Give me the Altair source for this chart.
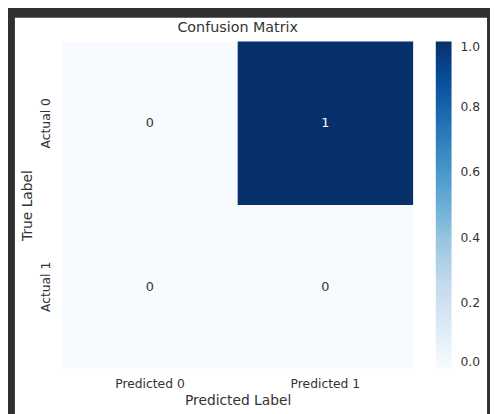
import altair as alt
import pandas as pd

# ---- data ----
row_labels = ["Actual 0", "Actual 1"]
col_labels = ["Predicted 0", "Predicted 1"]
matrix = [[0, 1],
          [0, 0]]

# matplotlib "Blues" colour stops
blues = ["#f7fbff", "#deebf7", "#c6dbef", "#9ecae1", "#6baed6",
         "#4292c6", "#2171b5", "#08519c", "#08306b"]
blue_stops = [0, 0.125, 0.25, 0.375, 0.5, 0.625, 0.75, 0.875, 1.0]
cbar_ticks = [0.0, 0.2, 0.4, 0.6, 0.8, 1.0]

records = []
for i, r in enumerate(row_labels):
    for j, c in enumerate(col_labels):
        records.append({"Actual": r, "Predicted": c, "Count": matrix[i][j]})
df = pd.DataFrame(records)

FONT = "DejaVu Sans"
TXT = "#333333"

x_enc = alt.X("Predicted:N", sort=col_labels,
              scale=alt.Scale(paddingInner=0, paddingOuter=0),
              axis=alt.Axis(title="Predicted Label", labelAngle=0, ticks=False,
                            domain=False, labelPadding=9, titlePadding=4,
                            labelFontSize=12.5, titleFontSize=14,
                            labelColor=TXT, titleColor=TXT, titleFontWeight="normal",
                            labelFont=FONT, titleFont=FONT, zindex=1))
y_enc = alt.Y("Actual:N", sort=row_labels,
              scale=alt.Scale(paddingInner=0, paddingOuter=0),
              axis=alt.Axis(title="True Label", labelAngle=-90, ticks=False,
                            domain=False, labelPadding=10, titlePadding=5,
                            labelFontSize=12.5, titleFontSize=14,
                            labelColor=TXT, titleColor=TXT, titleFontWeight="normal",
                            labelFont=FONT, titleFont=FONT, zindex=1))

# screenshot frame (decoration): white page area on a dark background
frame = alt.Chart(pd.DataFrame({"f": [0]})).mark_rect(color="white").encode(
    x=alt.value(-48), x2=alt.value(431), y=alt.value(-24), y2=alt.value(380)
)

heat = alt.Chart(df).mark_rect().encode(
    x=x_enc,
    y=y_enc,
    color=alt.Color("Count:Q",
                    scale=alt.Scale(domain=blue_stops, range=blues, interpolate="rgb"),
                    legend=alt.Legend(title=None, orient="none", legendX=379, legendY=0,
                                      direction="vertical", gradientLength=332,
                                      gradientThickness=16, values=cbar_ticks,
                                      format=".1f", labelOffset=9,
                                      labelFontSize=12.5, labelColor=TXT, labelFont=FONT,
                                      gradientStrokeWidth=0, labelBaseline="middle",
                                      zindex=1)),
)

text = alt.Chart(df).mark_text(font=FONT, fontSize=13).encode(
    x=alt.X("Predicted:N", sort=col_labels),
    y=alt.Y("Actual:N", sort=row_labels),
    text=alt.Text("Count:Q", format="d"),
    color=alt.condition(alt.datum.Count > 0.5, alt.value("#ffffff"), alt.value(TXT)),
)

chart = alt.layer(frame, heat, text).properties(
    width=356,
    height=332,
    title=alt.TitleParams("Confusion Matrix", font=FONT, fontSize=14.5,
                          fontWeight="normal", color=TXT, offset=5, dy=23,
                          frame="group", anchor="middle", zindex=1),
    autosize=alt.AutoSizeParams(type="none"),
    padding={"left": 55, "top": 31, "right": 78, "bottom": 43},
    background="#303030",
).configure_view(strokeWidth=0)

chart.save("out.html", embed_options={"renderer": "svg", "actions": False})
